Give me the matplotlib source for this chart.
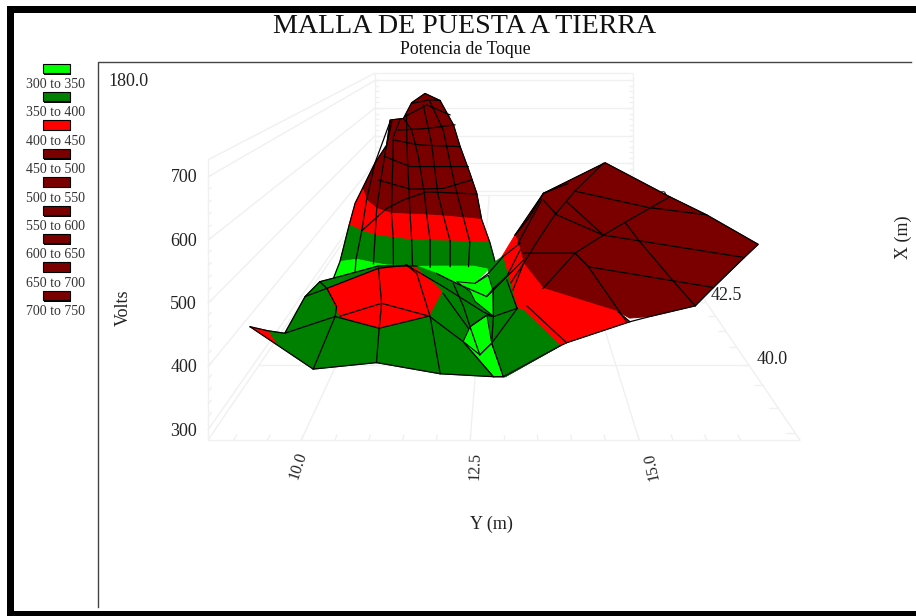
"""MALLA DE PUESTA A TIERRA - superficie de potencial de toque."""
import matplotlib
matplotlib.use("Agg")
import matplotlib.pyplot as plt
from matplotlib.patches import Rectangle

plt.rcParams.update({
    "font.family": ["Liberation Serif", "DejaVu Serif"],
    "figure.facecolor": "white",
})

GREEN_B, GREEN, RED, DARK = "#00ff00", "#008000", "#ff0000", "#7a0000"
GRID = "#f0f0f0"
TEXT = "#222222"

legend_labels = ["300 to 350", "350 to 400", "400 to 450", "450 to 500", "500 to 550",
                 "550 to 600", "600 to 650", "650 to 700", "700 to 750"]
legend_colors = [GREEN_B, GREEN, RED, DARK, DARK, DARK, DARK, DARK, DARK]
volts_ticks = [300, 400, 500, 600, 700]
y_ticks = [10.0, 12.5, 15.0]
y_tick_rot = [72, 88, 102]

# surface patches, each vertex is (Y m, X m, Volts)
peak_dark = [(9.13,45,437),(9.47,45,511),(9.68,45.5,550),(9.67,46,614),(10.06,46,619),(10.30,46,668),(10.69,46,697),
             (11.13,46,675),(11.57,45.5,611),(11.76,45.5,545),(12.07,45,481),(12.28,44.5,442),(12.41,44.5,368),
             (11.93,44.5,373),(11.40,44.5,378),(10.96,44.5,381),(10.52,44.5,383),(10.03,44.5,385),(9.64,44.5,399),(9.37,44.5,423)]
peak_red = [(9.13,45,437),(9.37,44.5,423),(9.64,44.5,399),(10.03,44.5,385),(10.52,44.5,383),(10.96,44.5,381),
            (11.40,44.5,378),(11.93,44.5,373),(12.41,44.5,368),(12.64,44,327),(12.13,44,329),(11.63,44,331),(11.12,44,332),
            (10.65,44,334),(10.18,44,340),(9.72,44,347),(9.38,44,359),(9.06,44,375),(9.07,44.5,414)]
peak_green = [(9.06,44,375),(9.38,44,359),(9.72,44,347),(10.18,44,340),(10.65,44,334),(11.12,44,332),(11.63,44,331),
              (12.13,44,329),(12.64,44,327),(12.78,43.5,301),(12.62,43.5,281),(12.25,43.5,288),(11.84,43.5,289),
              (11.27,43.5,288),(10.86,43.5,286),(10.37,43.5,292),(9.80,43.5,296),(9.39,43.5,305),(8.98,43.5,301)]
peak_bright = [(8.98,43.5,301),(9.39,43.5,307),(9.80,43.5,298),(10.12,43.5,292),(10.86,43.5,288),(11.27,43.5,289),
               (11.84,43.5,289),(12.25,43.5,289),(12.62,43.5,281),(12.29,43.5,244),(11.76,43.5,248),(11.35,43.5,270),
               (10.86,43.5,288),(9.92,43.5,288),(9.35,43.5,270),(8.82,43.5,257)]
hill_dark = [(16.34,48,417),(17.85,46,374),(18.54,45,360),(19.47,44,322),(18.66,43,337),(17.34,41.5,347),(16.60,40.5,367),
             (15.61,40,377),(15.25,40,374),(15.15,40.5,355),(13.81,41.5,345),(13.46,43,322),(13.36,44,325),(13.28,44,347),(14.19,46.5,366)]
hill_red = [(13.28,44,347),(13.36,44,325),(13.46,43,322),(13.81,41.5,345),(15.15,40.5,355),(15.25,40,367),(14.00,39,395),
            (13.84,38.5,424),(13.25,40.5,352),(13.09,41.5,349),(12.95,43,339)]
hill_green = [(12.97,43,339),(13.09,41.5,349),(13.25,40.5,352),(13.84,38.5,424),(13.01,37,487),(12.80,39,394),(12.80,40,377)]
mound_green = [(8.55,40.5,317),(9.08,40,345),(8.88,41.5,327),(9.01,42,332),(9.30,42,340),(10.16,42.5,342),(11.03,42.5,342),
               (11.54,42,351),(11.97,42,328),(12.64,41.5,327),(12.79,41,314),(12.78,40,326),(12.99,39,337),(12.83,39,337),
               (11.98,39,342),(10.84,39.5,325),(9.95,39,350),(8.94,40,323)]
mound_tip = [(8.22,40.5,325),(8.55,40.5,317),(8.94,40,323)]
mound_red = [(9.33,41.5,345),(10.28,42,363),(10.80,42.5,344),(11.11,42,363),(11.71,41.5,338),(11.52,41,317),(10.65,40.5,322),
             (9.76,41,315),(9.66,41,338)]
center_green = [(12.66,42,361),(12.80,42.5,352),(12.97,42.5,365),(13.26,41,331),(13.38,41,328),(14.00,40,321),(13.02,39,337),
                (12.78,40,326),(12.79,41,314),(12.74,41.5,345)]
center_top = [(11.97,42,332),(12.37,42,328),(12.66,42,347),(12.77,41.5,341),(12.79,41,315),(12.43,41,346),(12.30,41.5,338)]
center_low = [(12.27,40,329),(12.36,40.5,325),(12.66,41,317),(12.78,40,326),(12.59,39.5,339)]
center_strip = [(12.27,40,329),(12.59,39.5,339),(12.78,40,326),(12.99,39,337),(12.83,39,337)]

# mesh lines drawn over the patches
peak_mesh = [
    [(9.35,43.5,270),(9.37,43.5,305),(9.38,44,359),(9.37,44.5,423),(9.47,45,511),(9.67,46,609)],
    [(9.80,43.5,295),(9.72,44,347),(9.64,44.5,399),(9.63,45.5,525),(9.72,46,609)],
    [(10.29,43.5,292),(10.18,44,340),(10.03,44.5,385),(9.87,45.5,575),(9.96,46,616)],
    [(10.76,43.5,286),(10.65,44,334),(10.52,44.5,383),(10.25,45.5,555),(10.15,46,630)],
    [(11.19,43.5,286),(11.12,44,332),(10.96,44.5,381),(10.89,44.5,446),(10.66,45,530),(10.39,45.5,595),(10.06,46,619)],
    [(11.68,43.5,288),(11.63,44,331),(11.40,44.5,378),(11.25,44.5,442),(10.95,45.5,555),(10.64,46,661)],
    [(12.13,43.5,288),(12.13,44,329),(11.93,44.5,373),(11.71,44.5,462),(11.28,45.5,595),(10.84,46,671)],
    [(9.38,44,359),(9.90,44.5,399),(10.34,44.5,423),(10.96,44.5,446),(12.28,44.5,440)],
    [(9.56,45,462),(10.43,45,435),(11.34,45,437),(12.12,45,462)],
    [(9.75,45,530),(10.43,45,501),(11.25,45,501),(12.02,45,501)],
    [(9.87,45.5,565),(10.62,45.5,550),(11.76,45.5,545)],
    [(10.01,45.5,595),(10.81,45.5,600),(11.61,45.5,611)],
    [(10.11,46,625),(10.74,46,661),(11.42,46,630)],
    [(10.30,46,666),(10.84,46,677),(11.13,46,675)],
    # silhouette
    [(8.82,43.5,257),(8.98,43.5,301),(9.06,44,375),(9.07,44.5,414),(9.13,45,437),(9.47,45,511),(9.68,45.5,550),(9.67,46,614),
     (10.06,46,619),(10.30,46,668),(10.69,46,697),(11.13,46,675),(11.57,45.5,611),(11.76,45.5,545),(12.07,45,481),
     (12.28,44.5,442),(12.41,44.5,368),(12.64,44,327),(12.78,43.5,301)],
]
hill_mesh = [
    [(16.28,48,415),(15.14,46.5,373),(14.39,45,360),(13.87,44,334),(13.46,43,322)],
    [(15.00,47,380),(14.19,46.5,366)],
    [(15.14,46.5,373),(17.08,45.5,361),(18.54,45,360)],
    [(14.83,46,359),(15.53,44,347),(18.66,43,337)],
    [(14.15,46,364),(14.44,45,360),(15.53,44,347)],
    [(13.47,43.5,323),(14.74,43.5,323),(14.91,42.5,340),(17.34,41.5,347)],
    [(17.85,46,374),(16.31,45,338),(15.53,44,347),(14.74,43.5,323),(13.81,41.5,345)],
    [(16.31,45,338),(16.42,44,334),(16.63,42,338),(16.60,40.5,367)],
    [(14.74,43.5,323),(14.91,42.5,340),(15.19,40,367)],
    [(13.28,44,347),(13.71,45,355),(14.19,46.5,366)],
    [(13.36,44,325),(14.10,46,364)],
    [(13.09,41.5,349),(13.46,43,322)],
    [(13.43,40.5,367),(14.00,39,395)],
    [(15.15,40.5,355),(15.25,40,367)],
    [(12.80,39,394),(13.46,43,322)],
    # silhouette
    [(13.28,44,347),(14.19,46.5,366),(16.34,48,417),(17.85,46,374),(18.54,45,360),(19.47,44,322),(18.66,43,337),(17.34,41.5,347),
     (16.60,40.5,367),(15.61,40,377),(15.25,40,367),(14.00,39,395),(13.84,38.5,424),(13.01,37,487)],
]
mound_mesh = [
    [(9.08,40,345),(9.66,41,314),(10.65,40.5,322),(11.52,41,315),(12.27,40,329),(12.83,39,337)],
    [(9.95,39,350),(9.66,41,314),(9.69,41,335),(9.33,41.5,345),(9.01,42,332)],
    [(10.84,39.5,325),(10.65,40.5,322),(10.58,41,342),(10.28,42,363)],
    [(11.98,39,342),(11.54,41,314),(11.11,42,351),(10.80,42.5,344)],
    [(9.76,41,315),(10.58,41,342),(11.52,41,315)],
    [(8.88,41.5,327),(9.33,41.5,345)],
    [(9.33,41.5,345),(10.28,42,363),(10.80,42.5,344)],
    [(10.80,42.5,344),(11.74,41.5,349),(12.59,41,324),(12.79,41,314),(13.25,41,331)],
    [(11.54,42,351),(11.97,42,328),(12.64,41.5,327),(12.78,41.5,341)],
    [(11.90,42,328),(12.20,41,335),(12.36,40.5,325),(12.59,39.5,339)],
    [(11.74,41.5,334),(12.33,40.5,322)],
    [(12.36,40.5,325),(12.66,41,317),(12.79,41,314)],
    [(12.78,40,326),(12.59,39.5,339)],
    [(12.78,41.5,341),(12.79,41,314),(12.78,40,326),(12.99,39,337)],
    [(12.78,40,326),(13.26,41,331)],
    [(12.37,42,328),(12.66,42,351),(12.98,42.5,365),(13.38,43,373)],
    [(12.64,41.5,327),(12.78,41.5,345),(13.13,42,351),(13.44,42.5,356)],
    [(12.78,41.5,341),(13.06,42,344),(13.38,43,356)],
    [(13.06,42,336),(13.26,41,331)],
    # silhouette
    [(8.22,40.5,325),(8.55,40.5,317),(9.08,40,345),(8.88,41.5,327),(9.01,42,332),(9.30,42,340),(10.16,42.5,342),(11.03,42.5,342)],
    [(8.22,40.5,325),(8.94,40,323),(9.95,39,350),(10.84,39.5,325),(11.98,39,342),(12.83,39,337),(12.99,39,337),(13.84,38.5,424)],
]
# patch, colour, black edge or not
patches = [(peak_dark, DARK, False), (peak_red, RED, False), (peak_green, GREEN, False), (peak_bright, GREEN_B, False),
           (hill_dark, DARK, False), (hill_red, RED, False), (hill_green, GREEN, False),
           (mound_green, GREEN, False), (mound_tip, RED, False), (mound_red, RED, False),
           (center_green, GREEN, False), (center_top, GREEN_B, True), (center_low, GREEN_B, True), (center_strip, GREEN_B, True)]

# box limits and perspective
Y_MIN, Y_MAX = 8.62, 17.38
X_MIN, X_MAX = 38.37, 48.5
V_MIN, V_MAX = 284, 727
PX_PER_M, PX_PER_V = 67.6, 0.6325
DEPTH = 0.128
CX, VY, FLOOR = 504, 6, 434


def project(y, x, v):
    w = 1 + DEPTH * (x - X_MIN)
    h = 10 + (v - 300) * PX_PER_V
    return CX + (y - 13) * PX_PER_M / w, VY + (FLOOR - h) / w


def seg(ax, a, b, **kw):
    pa, pb = project(*a), project(*b)
    ax.plot([pa[0], pb[0]], [pa[1], pb[1]], solid_capstyle="butt", **kw)


def draw_mesh(ax, mesh, z):
    for line in mesh:
        pl = [project(*p) for p in line]
        ax.plot([p[0] for p in pl], [p[1] for p in pl], color="black", lw=0.9, zorder=z)


fig = plt.figure(figsize=(9.16, 6.16), dpi=100)
ax = fig.add_axes([0, 0, 1, 1])
ax.set_xlim(0, 916)
ax.set_ylim(616, 0)
ax.axis("off")

# picture frame
ax.add_patch(Rectangle((7, 6), 909, 7, fc="black", ec="none"))
ax.add_patch(Rectangle((7, 6), 7, 610, fc="black", ec="none"))
ax.add_patch(Rectangle((7, 611), 909, 5, fc="black", ec="none"))
ax.plot([98, 98, 911], [607, 62, 62], color="#444444", lw=1)

ax.text(465, 26.5, "MALLA DE PUESTA A TIERRA", fontsize=20.2, ha="center", va="center", color="#111111")
ax.text(465, 50, "Potencia de Toque", fontsize=12.8, ha="center", va="center", color="#111111")

# legend
for i, (lab, c) in enumerate(zip(legend_labels, legend_colors)):
    top = 63.5 + i * 28.4
    ax.add_patch(Rectangle((43.5, top + 1.5), 27, 9.5, fc="black", ec="none"))
    ax.add_patch(Rectangle((42.5, top), 27, 9.5, fc=c, ec="black", lw=0.8))
    ax.text(56, top + 21, lab, fontsize=10, ha="center", va="center", color="#333333")

# walls and floor
grid_kw = dict(color=GRID, lw=1, zorder=1)
for v in volts_ticks + [V_MIN, V_MAX]:
    seg(ax, (Y_MIN, X_MIN, v), (Y_MIN, X_MAX, v), **grid_kw)
    seg(ax, (Y_MIN, X_MAX, v), (Y_MAX, X_MAX, v), **grid_kw)
seg(ax, (Y_MIN, X_MIN, V_MIN), (Y_MIN, X_MIN, V_MAX), **grid_kw)
seg(ax, (Y_MIN, X_MAX, V_MIN), (Y_MIN, X_MAX, V_MAX), **grid_kw)
seg(ax, (Y_MAX, X_MAX, V_MIN), (Y_MAX, X_MAX, V_MAX), **grid_kw)
seg(ax, (Y_MIN, X_MIN, V_MIN), (Y_MAX, X_MIN, V_MIN), **grid_kw)
seg(ax, (Y_MAX, X_MIN, V_MIN), (Y_MAX, X_MAX, V_MIN), **grid_kw)
seg(ax, (Y_MIN, 40.0, V_MIN), (Y_MAX, 40.0, V_MIN), **grid_kw)
for y in y_ticks:
    seg(ax, (y, X_MIN, V_MIN), (y, X_MAX, V_MIN), **grid_kw)
# minor ticks
for i in range(1, 17):
    y = 9 + i * 0.5 - 0.5
    seg(ax, (y, X_MIN, V_MIN), (y, X_MIN + 0.1, V_MIN), **grid_kw)
for i in range(21):
    v = 300 + i * 20
    seg(ax, (Y_MIN, X_MIN, v), (Y_MIN, X_MIN + 0.1, v), **grid_kw)
    seg(ax, (Y_MIN, X_MAX, v), (Y_MIN + 0.12, X_MAX, v), **grid_kw)
    seg(ax, (Y_MAX, X_MAX, v), (Y_MAX - 0.12, X_MAX, v), **grid_kw)
for i in range(21):
    x = 38.5 + i * 0.5
    seg(ax, (Y_MAX, x, V_MIN), (Y_MAX - 0.15, x, V_MIN), **grid_kw)

# axis texts
tk = dict(fontsize=13, color=TEXT)
ax.text(108, 81, "180.0", ha="left", va="center", **tk)
for v in volts_ticks:
    ax.text(197, project(Y_MIN, X_MIN, v)[1] + 1, str(v), ha="right", va="center", **tk)
for y, rot in zip(y_ticks, y_tick_rot):
    px = project(y, X_MIN, V_MIN)[0]
    ax.text(px - 3 + (y - 10) * 3.2, 466, f"{y:.1f}", rotation=rot, ha="center", va="center", fontsize=11.5, color=TEXT)
ax.text(772, 359, "40.0", ha="center", va="center", **tk)
ax.text(726, 296, "42.5", ha="center", va="center", **tk)
ax.text(652, 199, "45.0", ha="center", va="center", zorder=2, **tk)
ax.text(123, 308, "Volts", rotation=90, ha="center", va="center", **tk)
ax.text(903, 237, "X (m)", rotation=90, ha="center", va="center", **tk)
ax.text(491, 524, "Y (m)", ha="center", va="center", **tk)

# surface, back to front
z = 3
for verts, color, edged in patches:
    pts = [project(*p) for p in verts]
    ax.fill([p[0] for p in pts], [p[1] for p in pts], fc=color, ec="black" if edged else color,
            lw=0.7, zorder=z)
    z += 0.1
    if verts is peak_bright:
        draw_mesh(ax, peak_mesh, z)
        z += 0.1
    if verts is hill_green:
        draw_mesh(ax, hill_mesh, z)
        z += 0.1
draw_mesh(ax, mound_mesh, z)

fig.savefig("out.png", dpi=100)
